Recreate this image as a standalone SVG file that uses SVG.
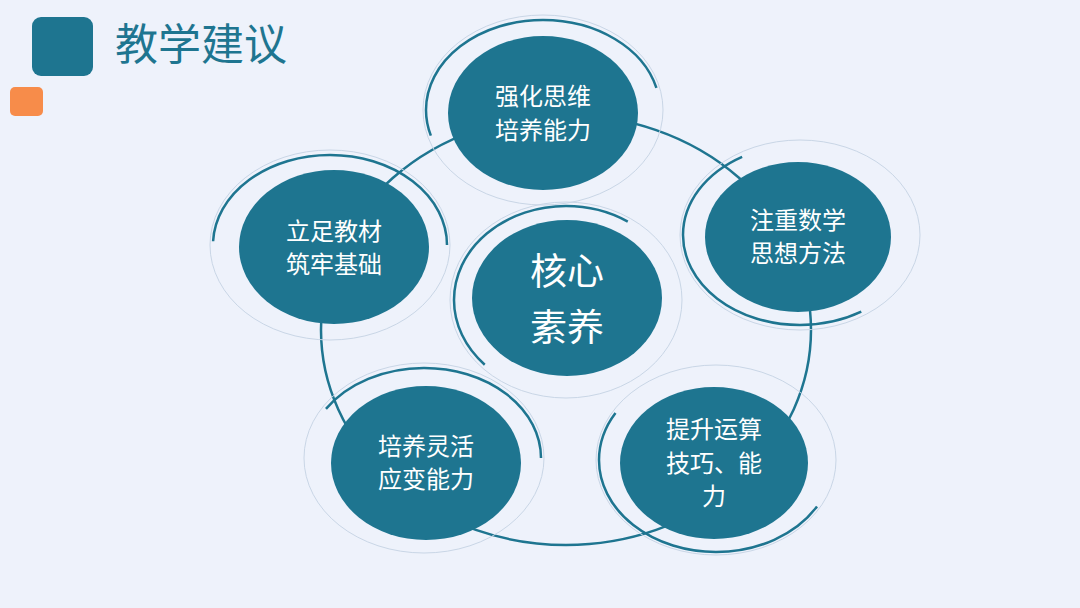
<svg xmlns="http://www.w3.org/2000/svg" width="1080" height="608" viewBox="0 0 1080 608">
<style>
.n{fill:#1e7590}
.ring{fill:none;stroke:#1e7590;stroke-width:2.5}
.faint{fill:none;stroke:#c9d6e6;stroke-width:1}
.t{font-family:"Noto Sans CJK SC",sans-serif;fill:#fff;font-size:24px;text-anchor:middle}
.big{font-size:37px}
</style>
<rect width="1080" height="608" fill="#eef2fb"/>
<rect x="32" y="17" width="61" height="59" rx="9" fill="#1e7590"/>
<rect x="10" y="87" width="33" height="29" rx="5" fill="#f78c4a"/>
<text x="115" y="60" font-family="Noto Sans CJK SC,sans-serif" font-size="43" fill="#1e7590">教学建议</text>
<g id="connectors"><ellipse cx="566" cy="330" rx="245" ry="215" fill="none" stroke="#1e7590" stroke-width="2.5"/></g>
<g id="center"><ellipse cx="566" cy="300" rx="116" ry="98" class="faint" style="fill:#eef2fb"/><ellipse cx="566" cy="300" rx="112" ry="94" class="ring" stroke-dasharray="300 400" stroke-dashoffset="-250"/><ellipse cx="567" cy="298" rx="95" ry="78" class="n"/><text class="t big" x="567" y="285">核心</text><text class="t big" x="567" y="341">素养</text></g>
<g id="top"><ellipse cx="543" cy="110" rx="120" ry="95" class="faint"/><ellipse cx="543" cy="110" rx="117" ry="90" class="ring" stroke-dasharray="330 400" stroke-dashoffset="-300"/><ellipse cx="543" cy="113" rx="95" ry="77" class="n"/><text class="t" x="543" y="105">强化思维</text><text class="t" x="543" y="139">培养能力</text></g>
<g id="right"><ellipse cx="800" cy="235" rx="120" ry="95" class="faint"/><ellipse cx="800" cy="235" rx="117" ry="90" class="ring" stroke-dasharray="330 400" stroke-dashoffset="-100"/><ellipse cx="798" cy="237" rx="93" ry="75" class="n"/><text class="t" x="798" y="229">注重数学</text><text class="t" x="798" y="262">思想方法</text></g>
<g id="br"><ellipse cx="716" cy="460" rx="120" ry="95" class="faint"/><ellipse cx="716" cy="460" rx="117" ry="92" class="ring" stroke-dasharray="330 400" stroke-dashoffset="-50"/><ellipse cx="714" cy="463" rx="94" ry="76" class="n"/><text class="t" x="714" y="438">提升运算</text><text class="t" x="714" y="472">技巧、能</text><text class="t" x="714" y="505">力</text></g>
<g id="bl"><ellipse cx="424" cy="458" rx="120" ry="95" class="faint"/><ellipse cx="424" cy="458" rx="117" ry="90" class="ring" stroke-dasharray="330 400" stroke-dashoffset="-380"/><ellipse cx="426" cy="463" rx="95" ry="77" class="n"/><text class="t" x="426" y="455">培养灵活</text><text class="t" x="426" y="488">应变能力</text></g>
<g id="left"><ellipse cx="330" cy="245" rx="120" ry="95" class="faint"/><ellipse cx="330" cy="245" rx="117" ry="90" class="ring" stroke-dasharray="330 400" stroke-dashoffset="-330"/><ellipse cx="334" cy="247" rx="95" ry="77" class="n"/><text class="t" x="334" y="240">立足教材</text><text class="t" x="334" y="273">筑牢基础</text></g>
</svg>
